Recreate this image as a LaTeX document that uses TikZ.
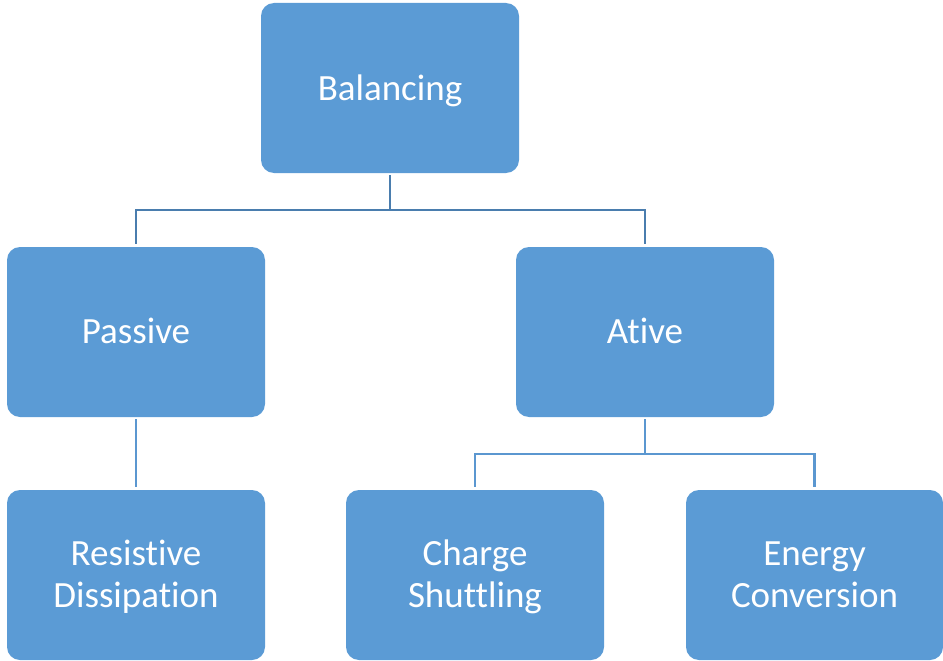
\documentclass[tikz,border=0pt]{standalone}
\usepackage{fontspec}
\setmainfont{Carlito}[Ligatures=NoCommon]
\definecolor{boxblue}{HTML}{5B9BD5}
\definecolor{linkdark}{HTML}{4A7DAE}
\definecolor{linklight}{HTML}{5B97D0}
% two-line label with uniform struts, nudged slightly down
\newcommand{\twolines}[2]{\raisebox{-3.5pt}[\height][\depth]{%
  \setlength{\tabcolsep}{0pt}\begin{tabular}{c}#1\\#2\end{tabular}}}
\begin{document}
\begin{tikzpicture}[x=1pt,y=-1pt,
  box/.style={fill=boxblue, draw=none, rounded corners=13pt,
    minimum width=258pt, minimum height=170pt, inner sep=0pt,
    text=white, align=center, font=\fontsize{37}{42}\selectfont},
  link/.style={line width=2.2pt, shorten <=2pt, shorten >=3pt}]
\useasboundingbox (0,0) rectangle (943,661);

% hierarchy boxes
\node[box] (bal) at (390,88)  {\raisebox{-3pt}[\height][\depth]{Balancing}};
\node[box] (pas) at (136,332) {\raisebox{1pt}[\height][\depth]{Passive}};
\node[box] (ati) at (645,332) {\raisebox{1pt}[\height][\depth]{Ative}};
\node[box] (res) at (136,575) {\twolines{Resistive}{Dissipation}};
\node[box] (cha) at (475,575) {\twolines{Charge}{Shuttling}};
\node[box, minimum width=257pt] (ene) at (814.5,575) {\twolines{Energy}{Conversion}};

% connectors
\draw[link, linkdark] (bal.south) -- ++(0,37) -| (pas.north);
\draw[link, linkdark] (bal.south) -- ++(0,37) -| (ati.north);
\draw[link, linklight] (pas.south) -- (res.north);
\draw[link, linklight] (ati.south) -- ++(0,37) -| (cha.north);
\draw[link, linklight] (ati.south) -- ++(0,37) -| (ene.north);
\end{tikzpicture}
\end{document}
